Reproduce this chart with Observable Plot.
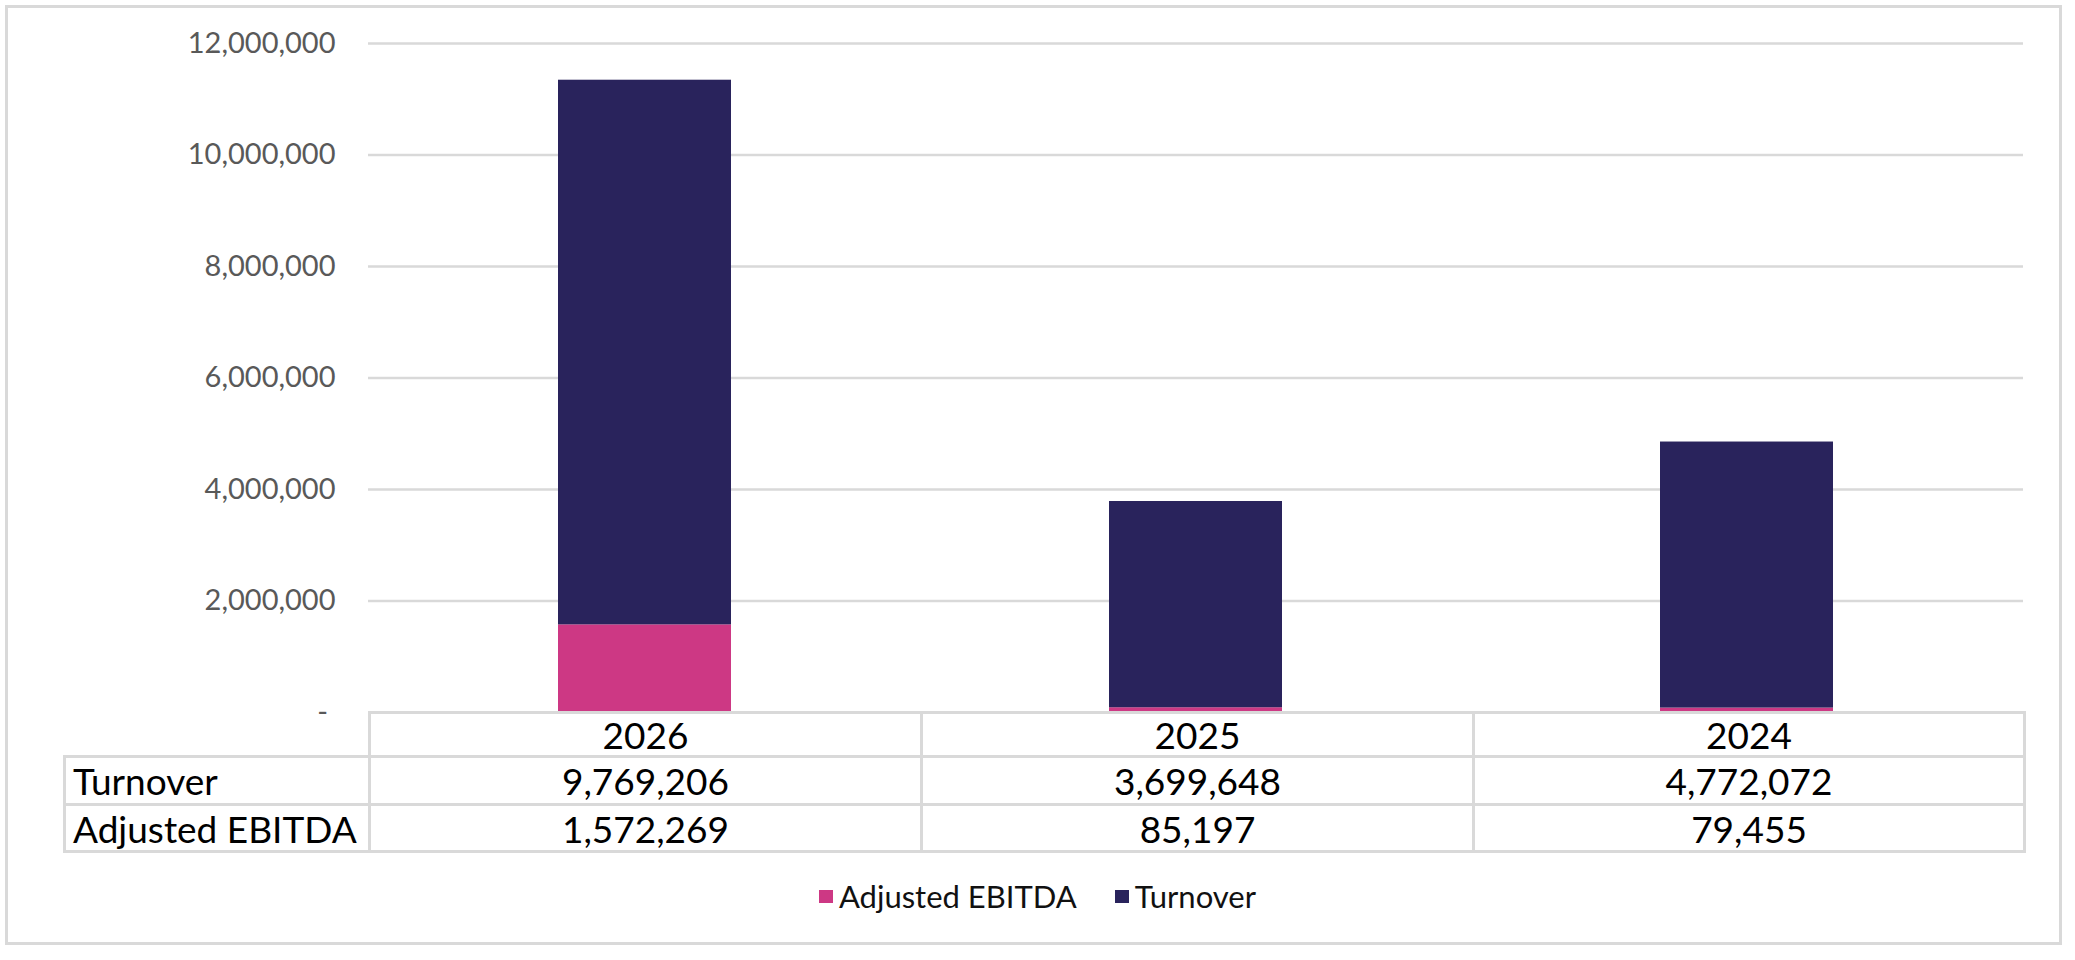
<!DOCTYPE html>
<html><head><meta charset="utf-8">
<script src="https://cdn.jsdelivr.net/npm/d3@7"></script>
<script src="https://cdn.jsdelivr.net/npm/@observablehq/plot@0.6"></script>
<style>
body{margin:0;background:#fff;font-family:Lato,sans-serif;}
#wrap{position:relative;width:2075px;height:960px;overflow:hidden;}
#frame{position:absolute;left:5px;top:5px;width:2057px;height:940px;border:3px solid #d9d9d9;box-sizing:border-box;}
#chart{position:absolute;left:0;top:0;}
#tbl{position:absolute;left:63px;top:711px;border-collapse:collapse;table-layout:fixed;font-family:Lato,sans-serif;font-size:37px;color:#000;}
#tbl td{border:3px solid #d9d9d9;padding:0;text-align:center;line-height:1;}
#tbl td.lab{text-align:left;padding-left:7px;}
#tbl td.blank{border-top:none;border-left:none;}
#tbl tr.h td{height:41px;}
#tbl tr.r1 td{height:45px;}
#tbl tr.r2 td{height:44px;}
#legend{position:absolute;left:0;top:877px;width:2075px;display:flex;justify-content:center;align-items:center;font-family:Lato,sans-serif;font-size:31px;color:#111;}
#legend .item{display:flex;align-items:center;margin:0 19px;}
#legend .sw{width:14px;height:13px;margin-right:6px;}
</style>
</head><body>
<div id="wrap">
  <div id="frame"></div>
  <div id="chart"></div>
  <table id="tbl"></table>
  <div id="legend"></div>
</div>
<script>
const years = ["2026", "2025", "2024"];
const turnover = [9769206, 3699648, 4772072];
const ebitda = [1572269, 85197, 79455];
const seriesNames = ["Adjusted EBITDA", "Turnover"];
const seriesColors = ["#cd3884", "#29235c"];
const yTicks = [0, 2000000, 4000000, 6000000, 8000000, 10000000, 12000000];
const tableRows = ["Turnover", "Adjusted EBITDA"];

const rows = [];
years.forEach((yr, i) => {
  rows.push({year: yr, series: "Adjusted EBITDA", value: ebitda[i]});
  rows.push({year: yr, series: "Turnover", value: turnover[i]});
});

const fmt = d3.format(",");
const chart = Plot.plot({
  width: 2075, height: 720,
  marginLeft: 368, marginRight: 52, marginTop: 43, marginBottom: 8,
  style: {fontFamily: "Lato", fontSize: "29px", color: "#595959", background: "transparent", overflow: "visible"},
  x: {domain: years, paddingInner: 0.686, paddingOuter: 0.343, axis: null},
  y: {domain: [0, 12000000], ticks: yTicks, tickFormat: d => d === 0 ? "-\u00a0" : fmt(d), tickSize: 0, tickPadding: 33, label: null},
  color: {domain: seriesNames, range: seriesColors},
  marks: [
    Plot.gridY(yTicks.filter(d => d > 0), {stroke: "#d9d9d9", strokeWidth: 2.5, strokeOpacity: 1}),
    Plot.barY(rows, Plot.stackY({x: "year", y: "value", fill: "series", order: seriesNames}))
  ]
});
document.getElementById("chart").appendChild(chart);

// data table
const tbl = document.getElementById("tbl");
const cg = document.createElement("colgroup");
[305, 552, 552, 551].forEach(w => { const c = document.createElement("col"); c.style.width = w + "px"; cg.appendChild(c); });
tbl.appendChild(cg);
const hr = document.createElement("tr"); hr.className = "h";
const blank = document.createElement("td"); blank.className = "blank"; hr.appendChild(blank);
years.forEach(y => { const td = document.createElement("td"); td.textContent = y; hr.appendChild(td); });
tbl.appendChild(hr);
const seriesByName = {"Turnover": turnover, "Adjusted EBITDA": ebitda};
tableRows.forEach((name, k) => {
  const tr = document.createElement("tr"); tr.className = "r" + (k + 1);
  const lab = document.createElement("td"); lab.className = "lab"; lab.textContent = name; tr.appendChild(lab);
  seriesByName[name].forEach(v => { const td = document.createElement("td"); td.textContent = fmt(v); tr.appendChild(td); });
  tbl.appendChild(tr);
});

// legend
const lg = document.getElementById("legend");
seriesNames.forEach((n, i) => {
  const it = document.createElement("div"); it.className = "item";
  const sw = document.createElement("div"); sw.className = "sw"; sw.style.background = seriesColors[i];
  const tx = document.createElement("span"); tx.textContent = n;
  it.appendChild(sw); it.appendChild(tx); lg.appendChild(it);
});
</script>
</body></html>
